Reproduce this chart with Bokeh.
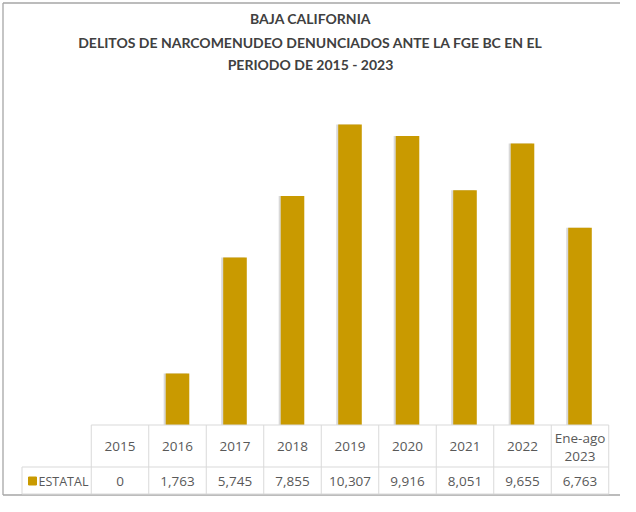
from bokeh.plotting import figure
from bokeh.models import Range1d, ColumnDataSource
from bokeh.core.properties import value
from bokeh.embed import file_html
from bokeh.resources import INLINE

# ---- data ----
title_lines = ["BAJA CALIFORNIA",
               "DELITOS DE NARCOMENUDEO DENUNCIADOS ANTE LA FGE BC EN EL",
               "PERIODO DE 2015 - 2023"]
categories = ["2015", "2016", "2017", "2018", "2019", "2020", "2021", "2022", "Ene-ago\n2023"]
estatal = [0, 1763, 5745, 7855, 10307, 9916, 8051, 9655, 6763]
series_name = "ESTATAL"

GOLD = "#C99A00"
FONT = value("Open Sans")
TFONT = value("Lato")
W, H = 620, 496
COL = 57.5            # px per category column
C0 = 119.5            # px of first category centre
BASE = 424.5          # px (from top) of the value 0 baseline / table top
K = 0.02915           # px per unit

idx = list(range(len(categories)))
x0 = -C0 / COL
x1 = (W - C0) / COL

p = figure(width=W, height=H, output_backend="svg", toolbar_location=None,
           x_range=Range1d(x0, x1),
           y_range=Range1d((BASE - H) / K, BASE / K),
           x_axis_location=None, y_axis_location=None, min_border=0)
p.grid.visible = False
p.outline_line_color = None
p.background_fill_color = "white"
p.border_fill_color = "white"
p.extra_x_ranges = {"px": Range1d(0, W)}
p.extra_y_ranges = {"px": Range1d(H, 0)}

src = ColumnDataSource(dict(x=idx, top=estatal,
                            xs=[i - 0.035 for i in idx],
                            label=categories,
                            val=[f"{v:,}" for v in estatal]))

# bar shadow + bars
p.vbar(x="xs", top="top", width=0.41, source=src, fill_color="#808080", fill_alpha=0.3,
       line_color=None)
p.vbar(x="x", top="top", width=0.41, source=src, fill_color=GOLD, line_color=None)

# outer border (top, left, bottom)
p.segment(x0=[2.5, 2.5, 2.5], y0=[2.5, 2.5, 494.5], x1=[W, 2.5, W], y1=[2.5, 494.5, 494.5],
          x_range_name="px", y_range_name="px", line_color="#A6A6A6", line_width=1.3)

# title
p.text(x=[310] * 3, y=[17.5, 41.5, 64], text=title_lines, x_range_name="px", y_range_name="px",
       text_align="center", text_baseline="middle", text_font=TFONT, text_font_style="bold",
       text_font_size="14px", text_color="#404040")

# table grid
ROW1 = 466.5
BOT = 493.5
LEFT_PX = 21.5
left_x = x0 + LEFT_PX / COL
bounds = [i - 0.5 for i in range(len(categories) + 1)]
GRID = "#D9D9D9"
p.segment(x0=bounds, x1=bounds, y0=[BASE] * len(bounds), y1=[BOT] * len(bounds),
          y_range_name="px", line_color=GRID, line_width=1)
p.segment(x0=[-0.5, left_x, left_x, left_x], x1=[len(categories) - 0.5] * 3 + [left_x],
          y0=[BASE, ROW1, BOT, ROW1], y1=[BASE, ROW1, BOT, BOT],
          y_range_name="px", line_color=GRID, line_width=1)

# header & values
p.text(x="x", y=446, text="label", source=src, y_range_name="px",
       text_align="center", text_baseline="middle", text_font=FONT,
       text_font_size="13.5px", text_color="#595959", text_line_height=1.0)
p.text(x="x", y=480.5, text="val", source=src, y_range_name="px",
       text_align="center", text_baseline="middle", text_font=FONT,
       text_font_size="13.5px", text_color="#595959")

# legend key
p.scatter(x=[32], y=[480.5], marker="square", size=8, color=GOLD,
          x_range_name="px", y_range_name="px")
p.text(x=[38], y=[480.5], text=[series_name], x_range_name="px", y_range_name="px",
       text_align="left", text_baseline="middle", text_font=FONT,
       text_font_size="12.5px", text_color="#595959")

open("out.html", "w").write(file_html(p, INLINE))
